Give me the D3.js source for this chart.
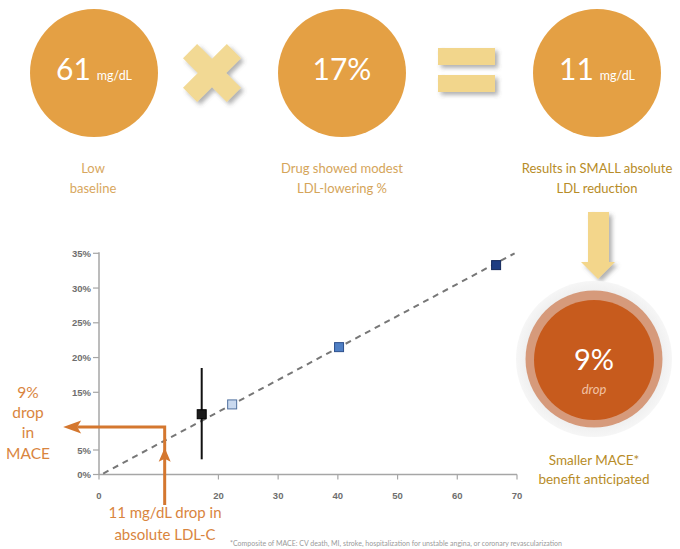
<!DOCTYPE html>
<html>
<head>
<meta charset="utf-8">
<script src="https://cdn.jsdelivr.net/npm/d3@7"></script>
<style>
  html, body { margin: 0; padding: 0; background: #ffffff; }
  svg { display: block; }
</style>
</head>
<body>
<svg id="chart" width="680" height="549"></svg>
<script>
// LDL-C reduction (mg/dL) vs relative MACE reduction (%)
const trialNames   = ["Trial A", "Trial B", "Trial C", "Trial D"];
const ldlDrop      = [17.2, 22.3, 40.2, 66.5];
const maceDrop     = [11.2, 12.9, 21.5, 33.3];
const ciLow        = [3.1, null, null, null];
const ciHigh       = [18.5, null, null, null];
const markerFill   = ["#1b1b1b", "#c9d9ef", "#4f7fc4", "#1f3d82"];
const markerStroke = ["#000000", "#50709e", "#2d4f8c", "#13285a"];

// regression line end points
const fitX = [0.7, 69.6];
const fitY = [0.2, 35];

// axis ticks
const xTicks = [0, 20, 30, 40, 50, 60, 70];
const yTicks = [0, 5, 15, 20, 25, 30, 35];

// headline equation
const baselineLdl = 61;
const pctLowering = 17;
const absDrop = 11;
const maceBenefit = 9;

const svg = d3.select("#chart");
const FONT = "Lato, 'Open Sans', sans-serif";

const defs = svg.append("defs");
const shadow = defs.append("filter").attr("id", "shadow")
  .attr("x", "-30%").attr("y", "-30%").attr("width", "170%").attr("height", "170%");
shadow.append("feDropShadow").attr("dx", 3).attr("dy", 3)
  .attr("stdDeviation", 2).attr("flood-color", "#555").attr("flood-opacity", 0.45);
const halo = defs.append("radialGradient").attr("id", "halo");
halo.append("stop").attr("offset", "80%").attr("stop-color", "#ececec");
halo.append("stop").attr("offset", "100%").attr("stop-color", "#f6f6f6");

// ---------- top equation row ----------
const circleFill = "#e4a044";
const topY = 73, topR = 64;

function valueCircle(cx, big, small) {
  svg.append("circle").attr("cx", cx).attr("cy", topY).attr("r", topR).attr("fill", circleFill);
  const t = svg.append("text").attr("x", cx).attr("y", topY + 7)
    .attr("text-anchor", "middle").attr("fill", "#fff").attr("font-family", FONT);
  t.append("tspan").attr("font-size", 30).text(big);
  if (small) t.append("tspan").attr("font-size", 12.5).attr("dx", 6).text(small);
}
valueCircle(94, String(baselineLdl), "mg/dL");
valueCircle(342, pctLowering + "%", null);
valueCircle(597, String(absDrop), "mg/dL");

// multiplication sign
const xg = svg.append("g").attr("transform", "translate(212,73)").attr("filter", "url(#shadow)");
[45, -45].forEach(a => {
  xg.append("rect").attr("x", -31).attr("y", -10).attr("width", 62).attr("height", 20)
    .attr("fill", "#f2d994").attr("transform", `rotate(${a})`);
});

// equals sign
const eg = svg.append("g").attr("filter", "url(#shadow)");
eg.append("rect").attr("x", 438).attr("y", 48).attr("width", 57).attr("height", 17).attr("fill", "#f2d68c");
eg.append("rect").attr("x", 438).attr("y", 75).attr("width", 57).attr("height", 17).attr("fill", "#f2d68c");

// captions
function caption(cx, lines, y0, color, size, gap) {
  lines.forEach((s, i) => {
    svg.append("text").attr("x", cx).attr("y", y0 + i * (gap || 20))
      .attr("text-anchor", "middle").attr("font-family", FONT)
      .attr("font-size", size).attr("fill", color).text(s);
  });
}
caption(93, ["Low", "baseline"], 173, "#d8a75e", 13);
caption(342, ["Drug showed modest", "LDL-lowering %"], 173, "#d5a55a", 13);
caption(597, ["Results in SMALL absolute", "LDL reduction"], 173, "#b78c28", 13);

// down arrow
svg.append("path").attr("filter", "url(#shadow)").attr("fill", "#f3d68b")
  .attr("d", "M588,212 L609,212 L609,262 L615,262 L598,279 L581,262 L588,262 Z");

// result circle
const rc = { x: 594, y: 359 };
svg.append("circle").attr("cx", rc.x).attr("cy", rc.y).attr("r", 78).attr("fill", "url(#halo)");
svg.append("circle").attr("cx", rc.x).attr("cy", rc.y).attr("r", 68.5).attr("fill", "#d69a7b");
svg.append("circle").attr("cx", rc.x).attr("cy", rc.y + 1).attr("r", 60).attr("fill", "#c75b1d");
svg.append("text").attr("x", rc.x).attr("y", 370).attr("text-anchor", "middle")
  .attr("font-family", FONT).attr("font-size", 29).attr("fill", "#fff").text(maceBenefit + "%");
svg.append("text").attr("x", rc.x).attr("y", 394).attr("text-anchor", "middle")
  .attr("font-family", FONT).attr("font-style", "italic").attr("font-size", 13)
  .attr("fill", "#f1c2a4").text("drop");
caption(594, ["Smaller MACE*", "benefit anticipated"], 465, "#b78c28", 13.5, 19);

// ---------- scatter plot ----------
const x = d3.scaleLinear().domain([0, 70]).range([99, 517]);
const y = d3.scaleLinear().domain([0, 5, 15, 35]).range([474.5, 450, 392.3, 253.3]);

const axisColor = "#a6a6a6";
svg.append("line").attr("x1", x(0)).attr("x2", x(0)).attr("y1", y(35) - 1).attr("y2", y(0))
  .attr("stroke", axisColor).attr("stroke-width", 1.5);
svg.append("line").attr("x1", x(0)).attr("x2", x(70)).attr("y1", y(0)).attr("y2", y(0))
  .attr("stroke", axisColor).attr("stroke-width", 1.5);

const tickFont = "'Liberation Sans', Arial, sans-serif";
const yt = svg.append("g");
yTicks.forEach(v => {
  yt.append("line").attr("x1", x(0) - 6).attr("x2", x(0)).attr("y1", y(v)).attr("y2", y(v))
    .attr("stroke", axisColor).attr("stroke-width", 1.2);
  yt.append("text").attr("x", x(0) - 8).attr("y", y(v) + 3.5).attr("text-anchor", "end")
    .attr("font-family", tickFont).attr("font-size", 9.5).attr("font-weight", "bold")
    .attr("fill", "#6e6e6e").text(v + "%");
});
const xt = svg.append("g");
xTicks.forEach(v => {
  xt.append("line").attr("x1", x(v)).attr("x2", x(v)).attr("y1", y(0)).attr("y2", y(0) + 5)
    .attr("stroke", axisColor).attr("stroke-width", 1.2);
  xt.append("text").attr("x", x(v)).attr("y", 499).attr("text-anchor", "middle")
    .attr("font-family", tickFont).attr("font-size", 9.5).attr("font-weight", "bold")
    .attr("fill", "#6e6e6e").text(v);
});

// regression line
svg.append("path")
  .datum(fitX.map((v, i) => [v, fitY[i]]))
  .attr("d", d3.line().x(d => x(d[0])).y(d => y(d[1])))
  .attr("fill", "none").attr("stroke", "#777").attr("stroke-width", 2)
  .attr("stroke-dasharray", "6,5");

// confidence interval
ldlDrop.forEach((v, i) => {
  if (ciLow[i] == null) return;
  svg.append("line").attr("x1", x(v)).attr("x2", x(v))
    .attr("y1", y(ciHigh[i])).attr("y2", y(ciLow[i]))
    .attr("stroke", "#111").attr("stroke-width", 2);
});

// trial markers
const S = 9;
svg.selectAll("rect.trial").data(trialNames).enter().append("rect")
  .attr("class", "trial")
  .attr("x", (d, i) => x(ldlDrop[i]) - S / 2)
  .attr("y", (d, i) => y(maceDrop[i]) - S / 2)
  .attr("width", S).attr("height", S)
  .attr("fill", (d, i) => markerFill[i])
  .attr("stroke", (d, i) => markerStroke[i]).attr("stroke-width", 1);

// ---------- annotation arrows ----------
const orange = "#d4772f";
const leftTip = -6;
const bottomStart = -6.2;
const upTip = 5.4;
svg.append("path")
  .attr("d", `M${x(absDrop)},${y(bottomStart)} L${x(absDrop)},${y(maceBenefit)} L${x(leftTip) + 14},${y(maceBenefit)}`)
  .attr("fill", "none").attr("stroke", orange).attr("stroke-width", 3);
// upward head
const ux = x(absDrop), uy = y(upTip);
svg.append("path").attr("fill", orange)
  .attr("d", `M${ux},${uy} L${ux + 6},${uy + 14} L${ux},${uy + 11} L${ux - 6},${uy + 14} Z`);
// leftward head
const lx = x(leftTip), ly = y(maceBenefit);
svg.append("path").attr("fill", orange)
  .attr("d", `M${lx},${ly} L${lx + 18},${ly - 6.5} L${lx + 14},${ly} L${lx + 18},${ly + 6.5} Z`);

const orangeText = "#d9853e";
["9%", "drop", "in", "MACE"].forEach((s, i) => {
  svg.append("text").attr("x", 28).attr("y", 397.5 + i * 20.4).attr("text-anchor", "middle")
    .attr("font-family", FONT).attr("font-size", 15.5).attr("fill", orangeText).text(s);
});
[absDrop + " mg/dL drop in", "absolute LDL-C"].forEach((s, i) => {
  svg.append("text").attr("x", 165).attr("y", 518 + i * 21.5).attr("text-anchor", "middle")
    .attr("font-family", FONT).attr("font-size", 15).attr("fill", orangeText).text(s);
});

// footnote
svg.append("text").attr("x", 230).attr("y", 546).attr("font-family", FONT)
  .attr("font-size", 7).attr("fill", "#9a9a9a")
  .text("*Composite of MACE: CV death, MI, stroke, hospitalization for unstable angina, or coronary revascularization");
</script>
</body>
</html>
